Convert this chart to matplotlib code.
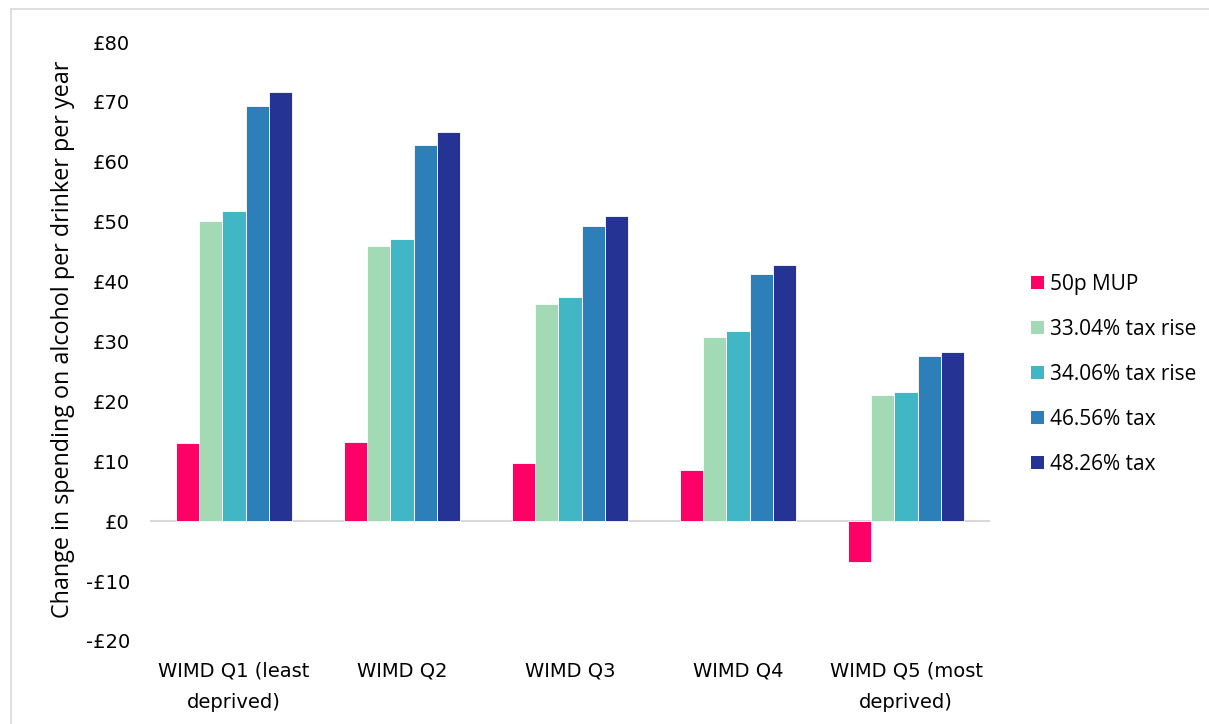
import matplotlib
matplotlib.use("Agg")
import matplotlib.pyplot as plt
from matplotlib.patches import Patch
from matplotlib.lines import Line2D

# Data
categories = ["WIMD Q1 (least\ndeprived)", "WIMD Q2", "WIMD Q3", "WIMD Q4", "WIMD Q5 (most\ndeprived)"]
series_names = ["50p MUP", "33.04% tax rise", "34.06% tax rise", "46.56% tax", "48.26% tax"]
mup_50p = [13.0, 13.2, 9.7, 8.6, -6.8]
tax_3304 = [50.2, 45.9, 36.3, 30.8, 21.0]
tax_3406 = [51.8, 47.1, 37.4, 31.7, 21.6]
tax_4656 = [69.3, 62.8, 49.2, 41.3, 27.6]
tax_4826 = [71.6, 64.9, 50.9, 42.7, 28.3]
yticks = [-20, -10, 0, 10, 20, 30, 40, 50, 60, 70, 80]
ytick_labels = ["-£20", "-£10", "£0", "£10", "£20", "£30", "£40", "£50", "£60", "£70", "£80"]

series = [mup_50p, tax_3304, tax_3406, tax_4656, tax_4826]
colors = ["#FF0066", "#A2DAB5", "#41B6C4", "#2C7FB8", "#253494"]

W, H = 1209, 724
fig = plt.figure(figsize=(W / 100, H / 100), dpi=100)
fig.patch.set_facecolor("white")

# Thin grey frame around the chart area
fig.add_artist(Line2D([11 / W, 11 / W], [0, 1 - 9 / H], color="#d9d9d9", lw=1.2, transform=fig.transFigure))
fig.add_artist(Line2D([11 / W, 1], [1 - 9 / H, 1 - 9 / H], color="#d9d9d9", lw=1.2, transform=fig.transFigure))

ax = fig.add_axes([150 / W, 1 - 641 / H, 840 / W, 599 / H])

bar_w = 0.139
x = list(range(len(categories)))
for j, (vals, col) in enumerate(zip(series, colors)):
    pos = [i + (j - 2) * bar_w for i in x]
    ax.bar(pos, vals, width=bar_w, color=col, edgecolor="white", linewidth=0.6, label=series_names[j], zorder=2)

ax.axhline(0, color="#d9d9d9", lw=1.5, zorder=1)
ax.set_xlim(-0.5, len(categories) - 0.5)
ax.set_ylim(-20, 80)

for s in ax.spines.values():
    s.set_visible(False)

ax.set_yticks(yticks)
ax.set_yticklabels(ytick_labels, fontsize=14, family="DejaVu Sans", color="#000000")
ax.set_xticks(x)
ax.set_xticklabels(categories, fontsize=14, family="DejaVu Sans", color="#000000", linespacing=1.78)
ax.tick_params(axis="y", length=0, pad=14.4)
ax.tick_params(axis="x", length=0, pad=15)

ax.set_ylabel("Change in spending on alcohol per drinker per year", fontsize=16.8,
              family="Open Sans", color="#000000")
ax.yaxis.set_label_coords(-0.089, 0.503)

handles = [Patch(facecolor=c, edgecolor="none") for c in colors]
leg = fig.legend(handles, series_names, loc="upper left",
                 bbox_to_anchor=(1031 / W, 1 - 274 / H),
                 frameon=False, prop={"family": "Open Sans", "size": 15},
                 handlelength=0.62, handleheight=0.62, handletextpad=0.3,
                 labelspacing=1.15, borderaxespad=0, borderpad=0)

fig.savefig("out.png", dpi=100, facecolor="white")
